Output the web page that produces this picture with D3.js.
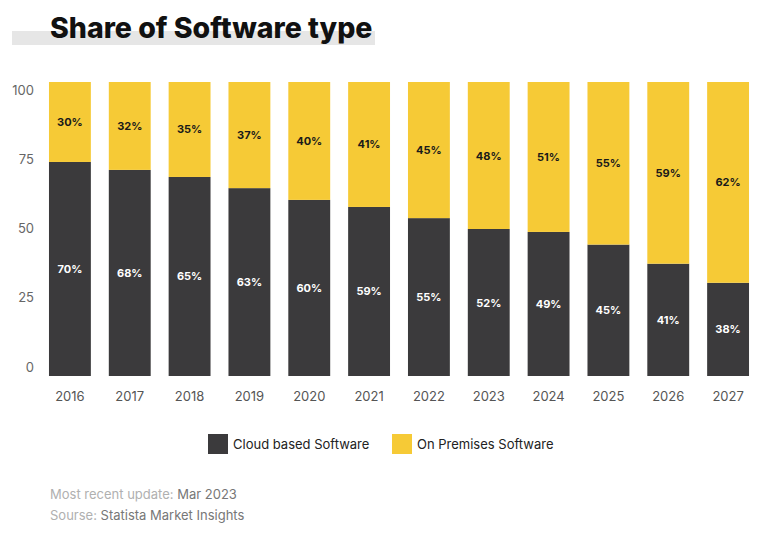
<!DOCTYPE html>
<html>
<head>
<meta charset="utf-8">
<script src="https://cdn.jsdelivr.net/npm/d3@7"></script>
<style>
  html, body { margin: 0; padding: 0; background: #fff; }
  svg { display: block; }
  text { font-family: Inter, "Open Sans", sans-serif; }
</style>
</head>
<body>
<svg id="chart" width="760" height="542"></svg>
<script>
// ---- data ----
const years = ["2016","2017","2018","2019","2020","2021","2022","2023","2024","2025","2026","2027"];
// bar heights as drawn
const cloudBar = [72.8, 70.1, 67.7, 63.9, 59.9, 57.5, 53.7, 50.0, 49.0, 44.7, 38.2, 31.7];
const premBar  = [27.2, 29.9, 32.3, 36.1, 40.1, 42.5, 46.3, 50.0, 51.0, 55.3, 61.8, 68.3];
// printed labels
const cloudLabel = [70, 68, 65, 63, 60, 59, 55, 52, 49, 45, 41, 38];
const premLabel  = [30, 32, 35, 37, 40, 41, 45, 48, 51, 55, 59, 62];
const yTicks = [0, 25, 50, 75, 100];
const seriesNames = ["Cloud based Software", "On Premises Software"];
const colors = ["#3b3a3c", "#f6ca36"];
const title = "Share of Software type";
const footer1 = ["Most recent update: ", "Mar 2023"];
const footer2 = ["Sourse: ", "Statista Market Insights"];

const svg = d3.select("#chart");

// title with grey band
svg.append("rect").attr("x", 12).attr("y", 31).attr("width", 363).attr("height", 14).attr("fill", "#e6e6e6");
svg.append("text").attr("x", 50).attr("y", 38)
  .attr("font-size", 28.5).attr("font-weight", 800).attr("fill", "#111")
  .text(title);

// scales
const x = d3.scaleBand().domain(years).range([40, 758]).paddingInner(0.3).paddingOuter(0.15);
const y = d3.scaleLinear().domain([0, 100]).range([376, 82]);
const yLab = d3.scaleLinear().domain([0, 100]).range([367, 90]);

// y axis labels
const yAxis = svg.append("g").attr("transform", "translate(34,0)")
  .call(d3.axisLeft(yLab).tickValues(yTicks).tickSize(0).tickPadding(0));
yAxis.select(".domain").remove();
yAxis.selectAll("text").attr("font-size", 13).attr("fill", "#666").attr("font-family", "Inter, sans-serif");

// x axis labels
const xAxis = svg.append("g").attr("transform", "translate(0,392)")
  .call(d3.axisBottom(x).tickSize(0).tickPadding(0));
xAxis.select(".domain").remove();
xAxis.selectAll("text").attr("font-size", 13).attr("fill", "#555").attr("font-family", "Inter, sans-serif");

// stacked data
const rows = years.map((yr, i) => ({ year: yr, cloud: cloudBar[i], prem: premBar[i], cl: cloudLabel[i], pl: premLabel[i] }));
const stack = d3.stack().keys(["cloud", "prem"])(rows);

const layers = svg.append("g").selectAll("g").data(stack).join("g").attr("fill", (d, i) => colors[i]);
layers.selectAll("rect").data(d => d).join("rect")
  .attr("x", d => x(d.data.year))
  .attr("width", x.bandwidth())
  .attr("y", d => y(d[1]))
  .attr("height", d => y(d[0]) - y(d[1]));

// value labels
stack.forEach((layer, li) => {
  svg.append("g").selectAll("text").data(layer).join("text")
    .attr("x", d => x(d.data.year) + x.bandwidth() / 2)
    .attr("y", d => (y(d[0]) + y(d[1])) / 2)
    .attr("text-anchor", "middle").attr("dominant-baseline", "central")
    .attr("font-size", 11).attr("font-weight", 700)
    .attr("fill", li === 0 ? "#ffffff" : "#1a1a1a")
    .text(d => (li === 0 ? d.data.cl : d.data.pl) + "%");
});

// legend
const legend = svg.append("g");
const legX = [208, 392];
seriesNames.forEach((n, i) => {
  legend.append("rect").attr("x", legX[i]).attr("y", 434).attr("width", 20).attr("height", 20).attr("fill", colors[i]);
  legend.append("text").attr("x", legX[i] + 25).attr("y", 444).attr("dominant-baseline", "central")
    .attr("font-size", 13).attr("fill", "#222").text(n);
});

// footer
[[footer1, 494], [footer2, 515]].forEach(([parts, yy]) => {
  const t = svg.append("text").attr("x", 50).attr("y", yy).attr("dominant-baseline", "central").attr("font-size", 13);
  t.append("tspan").attr("fill", "#b0b0b0").text(parts[0]);
  t.append("tspan").attr("fill", "#777").text(parts[1]);
});
</script>
</body>
</html>
